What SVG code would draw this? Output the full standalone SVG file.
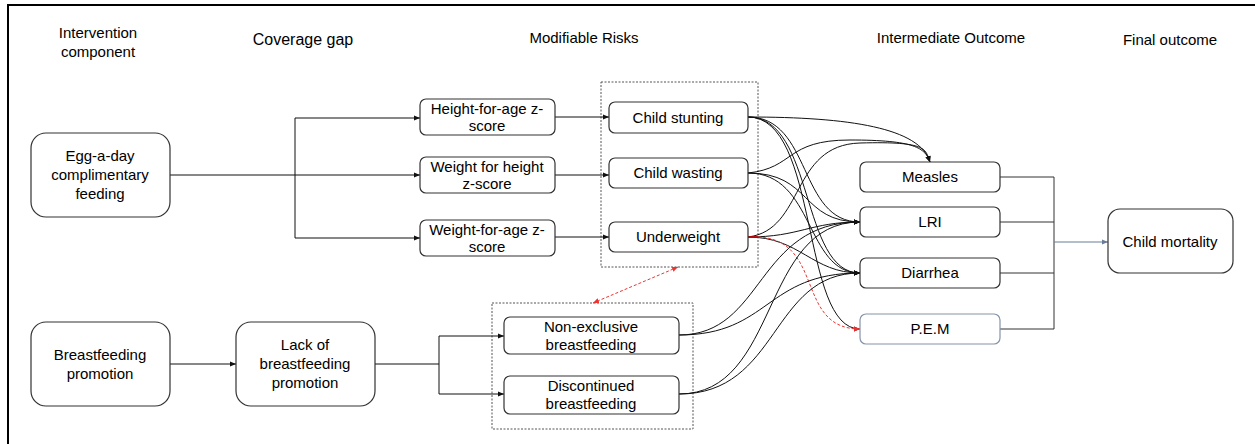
<svg xmlns="http://www.w3.org/2000/svg" width="1255" height="444" viewBox="0 0 1255 444">
<style>
.bg{fill:#ffffff}
.frame{stroke:#000;stroke-width:2;fill:none}
.big{fill:#fff;stroke:#333;stroke-width:1.2}
.box{fill:#fff;stroke:#333;stroke-width:1.2}
.pem{fill:#fff;stroke:#8593a8;stroke-width:1.2}
.grp{fill:none;stroke:#555;stroke-width:1;stroke-dasharray:2,1.5}
.t{font-family:"Liberation Sans",Arial,sans-serif;font-size:15px;fill:#000;text-anchor:middle}
.h{font-family:"Liberation Sans",Arial,sans-serif;font-size:15px;fill:#000;text-anchor:middle}
.c{fill:none;stroke:#111;stroke-width:1}
.ca{fill:none;stroke:#111;stroke-width:1;marker-end:url(#ah)}
.red{fill:none;stroke:#e33;stroke-width:1;stroke-dasharray:3,2}
.blue{fill:none;stroke:#6a7d98;stroke-width:1.2;marker-end:url(#ab)}
</style>
<defs>
<marker id="ah" viewBox="0 0 6 6" refX="6" refY="3" markerWidth="6" markerHeight="6" markerUnits="userSpaceOnUse" orient="auto"><path d="M0,0.5 L6,3 L0,5.5 z" fill="#111"/></marker>
<marker id="ar" viewBox="0 0 6 6" refX="6" refY="3" markerWidth="6" markerHeight="6" markerUnits="userSpaceOnUse" orient="auto-start-reverse"><path d="M0,0.5 L6,3 L0,5.5 z" fill="#e33"/></marker>
<marker id="ab" viewBox="0 0 6 6" refX="6" refY="3" markerWidth="6" markerHeight="6" markerUnits="userSpaceOnUse" orient="auto"><path d="M0,0.5 L6,3 L0,5.5 z" fill="#6a7d98"/></marker>
</defs>
<rect class="bg" x="0" y="0" width="1255" height="444"/>
<path class="frame" d="M8,444 V5 H1255"/>

<g id="headers">
<text class="h" x="98" y="38">Intervention</text>
<text class="h" x="98" y="57">component</text>
<text class="h" x="303" y="45" style="font-size:16px">Coverage gap</text>
<text class="h" x="584" y="43">Modifiable Risks</text>
<text class="h" x="951" y="43">Intermediate Outcome</text>
<text class="h" x="1170" y="45">Final outcome</text>
</g>

<g id="groups">
<rect class="grp" x="601" y="82" width="157" height="185"/>
<rect class="grp" x="492" y="303" width="201" height="126"/>
</g>

<g id="connectors">
<path class="c" d="M170,175 H295 M295,118 V238"/>
<path class="ca" d="M295,118 H420"/>
<path class="ca" d="M295,175 H420"/>
<path class="ca" d="M295,238 H420"/>
<path class="ca" d="M555,117 H609"/>
<path class="ca" d="M555,175 H609"/>
<path class="ca" d="M555,237 H609"/>
<path class="ca" d="M170,364 H236"/>
<path class="c" d="M375,364 H439 M439,336 V394"/>
<path class="ca" d="M439,336 H504"/>
<path class="ca" d="M439,394 H504"/>
<path class="red" d="M678,267 L593,303" marker-start="url(#ar)" marker-end="url(#ar)"/>
<!-- risks to intermediate outcomes -->
<path class="ca" d="M748,117 C850,117 920,128 930,162"/>
<path class="ca" d="M748,173 C795,168 785,140 850,140 S925,148 930,162"/>
<path class="ca" d="M748,237 C805,230 790,145 860,143 S925,150 930,162"/>
<path class="ca" d="M748,117 C812,117 798,222 860,222"/>
<path class="ca" d="M748,117 C815,117 800,273 860,273"/>
<path class="ca" d="M748,117 C820,117 800,329 860,329"/>
<path class="ca" d="M748,173 C812,173 800,222 860,222"/>
<path class="ca" d="M748,173 C815,173 805,273 860,273"/>
<path class="ca" d="M748,237 C800,237 810,222 860,222"/>
<path class="ca" d="M748,237 C800,237 812,273 860,273"/>
<path class="c" d="M748,237 H758" style="stroke:#d00;stroke-width:1.5"/>
<path class="red" d="M758,237 C825,240 795,329 860,329" marker-end="url(#ar)"/>
<path class="ca" d="M679,335 C765,335 755,222 860,222"/>
<path class="ca" d="M679,335 C770,335 765,273 860,273"/>
<path class="ca" d="M679,394 C780,394 760,222 860,222"/>
<path class="ca" d="M679,394 C780,394 770,273 860,273"/>
<!-- outcomes to mortality -->
<path class="c" d="M1000,177 H1054 M1000,222 H1054 M1000,273 H1054 M1000,329 H1054 M1054,177 V329" style="stroke:#333"/>
<path class="blue" d="M1054,242 H1108"/>
</g>

<g id="egg">
<rect class="big" x="31" y="133" width="139" height="84" rx="15"/>
<text class="t" x="100" y="161">Egg-a-day</text>
<text class="t" x="100" y="180">complimentary</text>
<text class="t" x="100" y="199">feeding</text>
</g>
<g id="bfpromo">
<rect class="big" x="31" y="322" width="139" height="84" rx="15"/>
<text class="t" x="100" y="360">Breastfeeding</text>
<text class="t" x="100" y="379">promotion</text>
</g>
<g id="lackbf">
<rect class="big" x="236" y="322" width="139" height="84" rx="15"/>
<text class="t" x="305" y="350">Lack of</text>
<text class="t" x="305" y="369">breastfeeding</text>
<text class="t" x="305" y="388">promotion</text>
</g>
<g id="hfa">
<rect class="box" x="420" y="99" width="135" height="36" rx="6"/>
<text class="t" x="487" y="114">Height-for-age z-</text>
<text class="t" x="487" y="131">score</text>
</g>
<g id="wfh">
<rect class="box" x="420" y="157" width="135" height="36" rx="6"/>
<text class="t" x="487" y="172">Weight for height</text>
<text class="t" x="487" y="189">z-score</text>
</g>
<g id="wfa">
<rect class="box" x="420" y="220" width="135" height="36" rx="6"/>
<text class="t" x="487" y="235">Weight-for-age z-</text>
<text class="t" x="487" y="252">score</text>
</g>
<g id="stunting">
<rect class="box" x="609" y="102" width="139" height="31" rx="6"/>
<text class="t" x="678" y="123">Child stunting</text>
</g>
<g id="wasting">
<rect class="box" x="609" y="158" width="139" height="30" rx="6"/>
<text class="t" x="678" y="178">Child wasting</text>
</g>
<g id="underweight">
<rect class="box" x="609" y="222" width="139" height="30" rx="6"/>
<text class="t" x="678" y="242">Underweight</text>
</g>
<g id="nonexcl">
<rect class="box" x="504" y="317" width="175" height="37" rx="6"/>
<text class="t" x="591" y="332">Non-exclusive</text>
<text class="t" x="591" y="350">breastfeeding</text>
</g>
<g id="discont">
<rect class="box" x="504" y="376" width="175" height="38" rx="6"/>
<text class="t" x="591" y="391">Discontinued</text>
<text class="t" x="591" y="409">breastfeeding</text>
</g>
<g id="measles">
<rect class="box" x="860" y="162" width="140" height="30" rx="6"/>
<text class="t" x="930" y="182">Measles</text>
</g>
<g id="lri">
<rect class="box" x="860" y="207" width="140" height="30" rx="6"/>
<text class="t" x="930" y="227">LRI</text>
</g>
<g id="diarrhea">
<rect class="box" x="860" y="258" width="140" height="30" rx="6"/>
<text class="t" x="930" y="278">Diarrhea</text>
</g>
<g id="pem">
<rect class="pem" x="860" y="314" width="140" height="30" rx="6"/>
<text class="t" x="930" y="334">P.E.M</text>
</g>
<g id="mortality">
<rect class="big" x="1108" y="209" width="125" height="64" rx="12"/>
<text class="t" x="1170" y="247">Child mortality</text>
</g>
</svg>
